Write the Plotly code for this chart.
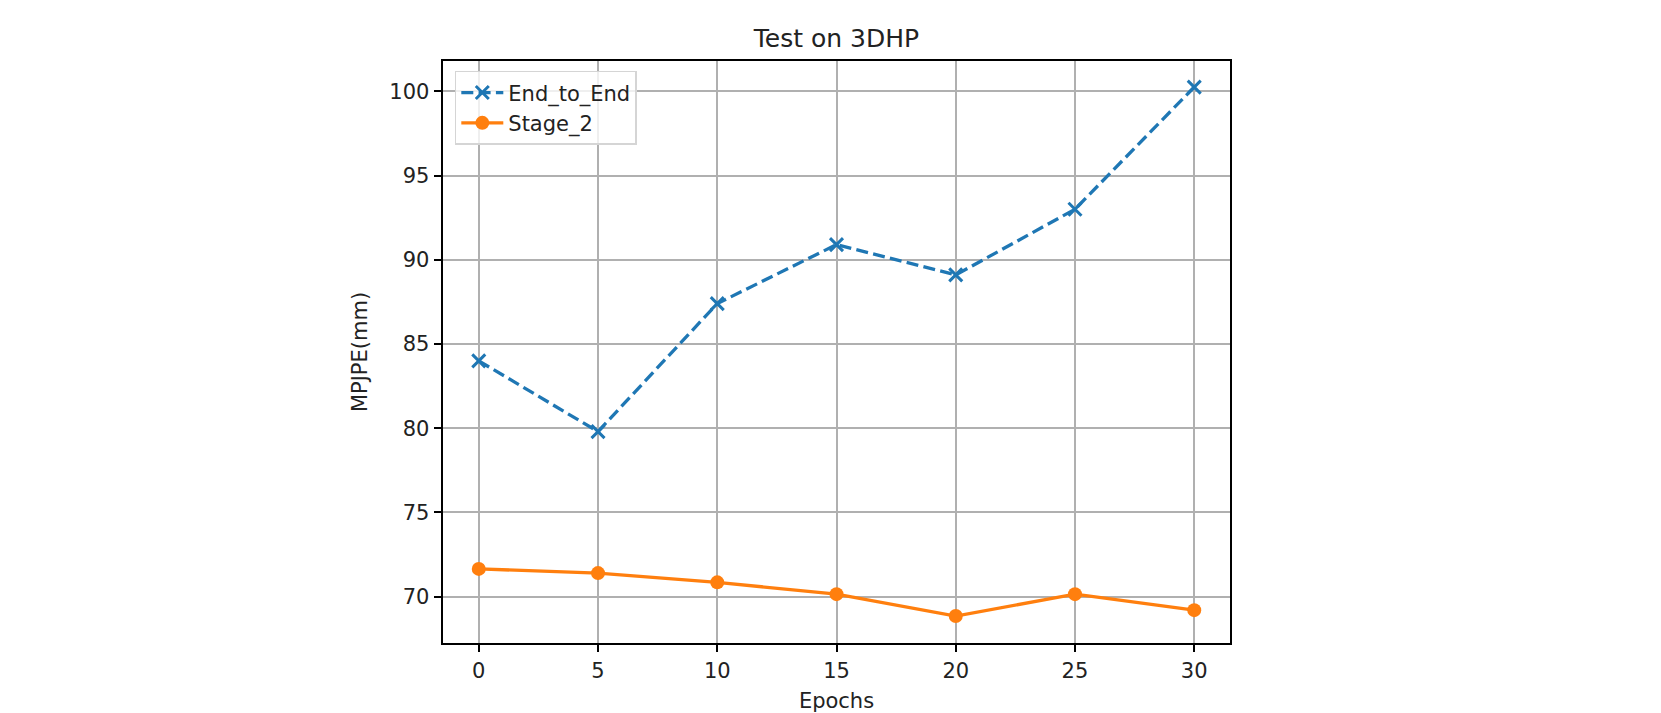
import plotly.graph_objects as go

epochs = [0, 5, 10, 15, 20, 25, 30]
end_to_end = [84.0, 79.8, 87.4, 90.9, 89.1, 93.0, 100.25]
stage_2 = [71.65, 71.4, 70.85, 70.15, 68.85, 70.15, 69.2]

FONT = "DejaVu Sans"
L, R, T, B = 435, 1222, 53, 641
W, H = 1661, 713

fig = go.Figure()
fig.add_trace(go.Scatter(
    x=epochs, y=end_to_end, name="End_to_End", mode="lines+markers",
    line=dict(color="#1f77b4", width=3.3, dash="12px,5.3px"),
    marker=dict(symbol="x-thin", size=13, line=dict(color="#1f77b4", width=3), color="#1f77b4"),
))
fig.add_trace(go.Scatter(
    x=epochs, y=stage_2, name="Stage_2", mode="lines+markers",
    line=dict(color="#ff7f0e", width=3.3),
    marker=dict(symbol="circle", size=14, color="#ff7f0e"),
))

axis_common = dict(
    showline=True, linecolor="black", linewidth=1.8, mirror=True,
    ticks="outside", ticklen=7.5, tickwidth=1.8, tickcolor="black",
    showgrid=True, gridcolor="#b0b0b0", gridwidth=1.8,
    zeroline=False, tickfont=dict(family=FONT, size=21, color="#222"),
)

fig.update_layout(
    width=W, height=H,
    margin=dict(l=L, r=W - R, t=T, b=H - B),
    paper_bgcolor="white", plot_bgcolor="white",
    title=dict(text="Test on 3DHP", x=(L + R) / 2 / W, xanchor="center",
               y=1 - 30 / H, yanchor="middle",
               font=dict(family=FONT, size=25, color="#222")),
    xaxis=dict(range=[-1.5, 31.5], tickvals=epochs, title=dict(text="Epochs", standoff=12,
               font=dict(family=FONT, size=21, color="#222")), **axis_common),
    yaxis=dict(range=[67.25, 101.8], tickvals=[70, 75, 80, 85, 90, 95, 100],
               title=dict(text="MPJPE(mm)", standoff=16, font=dict(family=FONT, size=21, color="#222")),
               **axis_common),
    legend=dict(x=0.015, y=0.983, xanchor="left", yanchor="top",
                bgcolor="rgba(255,255,255,0.8)", bordercolor="#d5d5d5", borderwidth=1.5,
                font=dict(family=FONT, size=21, color="#222"), tracegroupgap=0,
                itemwidth=42),
    showlegend=True,
)

fig.write_html("out.html")
